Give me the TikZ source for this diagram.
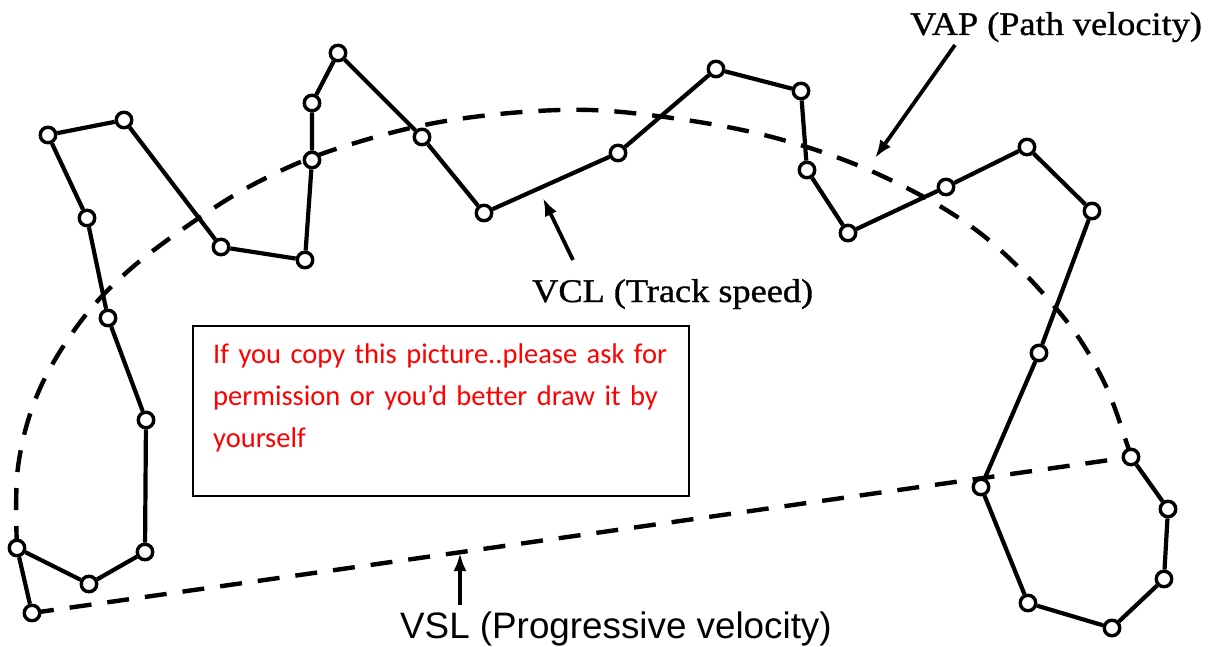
\documentclass[tikz,border=0pt]{standalone}
\usepackage{fontspec}
\usepackage{tikz}
\usetikzlibrary{arrows.meta,backgrounds}
\newfontfamily\labelserif[FakeStretch=1.1,FakeBold=1]{Liberation Serif}
\newfontfamily\labelsans{Liberation Sans}
\newfontfamily\notefont{Carlito}
\tikzset{
  spot/.style={circle, draw=black, fill=white, line width=3.4pt, minimum size=15.5pt, inner sep=0pt},
  track/.style={line width=4.2pt, line join=round},
  dashline/.style={line width=4.4pt, dash pattern=on 22pt off 16pt},
  pointer/.style={-{Latex[length=18pt,width=13pt]}, line width=3.8pt},
  seriftag/.style={inner sep=0pt, anchor=base west, font=\labelserif\fontsize{33}{40}\selectfont},
  sanstag/.style={inner sep=0pt, anchor=base west, font=\labelsans\fontsize{36.8}{42}\selectfont},
  notebox/.style={draw=black, line width=2.2pt, minimum width=496pt, minimum height=170pt, inner sep=0pt, anchor=north west},
  note/.style={text=red, text width=475pt, align=left, inner sep=0pt, anchor=base west, font=\notefont\fontsize{28.5}{42}\selectfont}
}
\begin{document}
\begin{tikzpicture}[x=1pt, y=-1pt]
\useasboundingbox (0,0) rectangle (1211,647);
% sampled positions of the head
\node[spot] (p1) at (32,613) {};
\node[spot] (p2) at (17,548) {};
\node[spot] (p3) at (89,584) {};
\node[spot] (p4) at (145,552) {};
\node[spot] (p5) at (146,420) {};
\node[spot] (p6) at (108,318) {};
\node[spot] (p7) at (87,218) {};
\node[spot] (p8) at (48,135) {};
\node[spot] (p9) at (124,120) {};
\node[spot] (p10) at (221,247) {};
\node[spot] (p11) at (305,260) {};
\node[spot] (p12) at (312,160) {};
\node[spot] (p13) at (312,103) {};
\node[spot] (p14) at (338,53) {};
\node[spot] (p15) at (422,137) {};
\node[spot] (p16) at (484,213) {};
\node[spot] (p17) at (618,153) {};
\node[spot] (p18) at (716,69) {};
\node[spot] (p19) at (801,91) {};
\node[spot] (p20) at (807,170) {};
\node[spot] (p21) at (848,233) {};
\node[spot] (p22) at (946,187) {};
\node[spot] (p23) at (1027,147) {};
\node[spot] (p24) at (1092,211) {};
\node[spot] (p25) at (1039,353) {};
\node[spot] (p26) at (981,487) {};
\node[spot] (p27) at (1028,603) {};
\node[spot] (p28) at (1112,628) {};
\node[spot] (p29) at (1164,579) {};
\node[spot] (p30) at (1168,509) {};
\node[spot] (p31) at (1131,457) {};
% track (VCL)
\draw[track] (p1) -- (p2) -- (p3) -- (p4) -- (p5) -- (p6) -- (p7) -- (p8)
  -- (p9) -- (p10) -- (p11) -- (p12) -- (p13) -- (p14) -- (p15) -- (p16)
  -- (p17) -- (p18) -- (p19) -- (p20) -- (p21) -- (p22) -- (p23) -- (p24)
  -- (p25) -- (p26) -- (p27) -- (p28) -- (p29) -- (p30) -- (p31);
% averaged path and straight line
\begin{scope}[on background layer]
\draw[dashline] plot[smooth, tension=0.6] coordinates {(p2.center) (18,467) (38,393)
  (78,325) (127,272) (193,222) (258,182) (333,150) (440,122) (560,110) (657,116)
  (772,137) (880,175) (980,233) (1060,313) (1103,380) (1128,447) (p31.center)};
\draw[dashline] (p1.center) -- (p31.center);
\end{scope}
% labels
\node[seriftag] (vap) at (910,35) {VAP (Path velocity)};
\node[seriftag] (vcl) at (532,302) {VCL (Track speed)};
\node[sanstag] (vsl) at (400,638) {VSL (Progressive velocity)};
\coordinate (vaptail) at (955,45);
\coordinate (vaphead) at (875,158);
\coordinate (vcltail) at (573,260);
\coordinate (vclhead) at (543,198);
\coordinate (vsltail) at (460,605);
\coordinate (vslhead) at (460,553);
\draw[pointer] (vaptail) -- (vaphead);
\draw[pointer] (vcltail) -- (vclhead);
\draw[pointer] (vsltail) -- (vslhead);
% notice
\node[notebox] (box) at (192,325) {};
\node[note] (warn) at (213,363) {If you copy this picture..please ask for\\
  permission or you’d better draw it by\\ yourself};
\end{tikzpicture}
\end{document}
